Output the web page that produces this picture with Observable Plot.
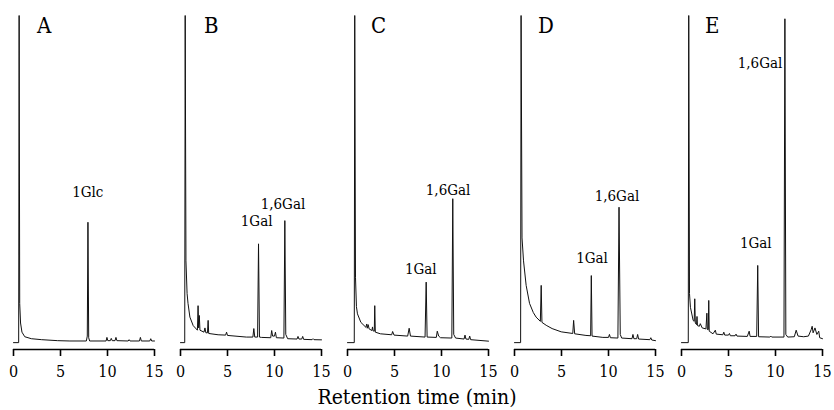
<!DOCTYPE html>
<html>
<head>
<meta charset="utf-8">
<script src="https://cdn.jsdelivr.net/npm/d3@7"></script>
<script src="https://cdn.jsdelivr.net/npm/@observablehq/plot@0.6"></script>
<style>
  body { margin: 0; background: #fff; }
  #chart { width: 834px; }
  #xlabel { width: 834px; text-align: center; font-family: "DejaVu Serif Condensed", "DejaVu Serif", serif; font-size: 21px; line-height: 24px; color: #000; }
</style>
</head>
<body>
<div id="chart"></div>
<div id="xlabel">Retention time (min)</div>
<script>
const panels = ["A", "B", "C", "D", "E"];
const xTicks = [0, 5, 10, 15];

// [retention time (min), detector signal (% of full scale)]
const traceA = [[0,0],[0.55,0],[0.6,100],[0.66,12],[0.75,6],[0.9,3.2],[1.2,1.8],[1.9,1.2],[3,0.9],[4.7,0.6],[6,0.5],[7.75,0.5],[7.85,2],[7.92,36.8],[8.0,1.5],[8.1,0.5],[9.85,0.5],[9.94,1.6],[10.03,0.6],[10.3,0.6],[10.4,1.3],[10.5,0.6],[10.8,0.6],[10.9,1.6],[11.0,0.6],[12.2,0.5],[12.3,0.9],[12.4,0.5],[13.4,0.5],[13.5,1.6],[13.6,0.5],[14.5,0.5],[14.6,1.2],[14.7,0.5],[15,0.5]];
const traceB = [[0,0],[0.45,0],[0.5,100],[0.58,25],[0.7,15],[0.8,12],[1.0,7.8],[1.35,5.2],[1.8,3.8],[1.87,11.3],[1.93,4.5],[2.0,8.3],[2.07,3.8],[2.5,3.2],[2.6,4.5],[2.7,3],[2.87,3],[2.94,6.8],[3.0,2.8],[4.0,2.4],[4.8,2.3],[4.9,3.2],[5.0,2.2],[7.0,1.7],[7.7,1.7],[7.8,4.3],[7.9,1.7],[8.2,1.7],[8.3,30.2],[8.4,1.7],[8.6,1.6],[9.6,1.5],[9.7,3.7],[9.8,2],[10.0,2],[10.1,3.2],[10.2,1.5],[11.0,1.4],[11.1,37.3],[11.2,2.5],[11.4,1.2],[12.4,1.1],[12.5,1.9],[12.6,1.1],[12.9,1.1],[13.0,1.9],[13.1,1.0],[14.0,0.9],[14.1,1.2],[14.2,0.9],[15,0.85]];
const traceC = [[0,0],[0.72,0],[0.77,100],[0.85,20],[0.95,11],[1.06,8.8],[1.42,6.2],[1.95,4.7],[2.05,5.7],[2.1,4.4],[2.2,5.5],[2.3,4.2],[2.6,3.7],[2.66,4.8],[2.72,3.6],[2.85,3.5],[2.9,11.3],[2.96,3.2],[3.5,2.7],[4.7,2.4],[4.8,3.4],[4.95,2.3],[6.4,2.0],[6.56,4.4],[6.7,2.0],[8.25,1.7],[8.37,18.5],[8.47,1.7],[9.45,1.6],[9.55,3.5],[9.7,2.0],[9.9,1.5],[11.1,1.4],[11.2,44],[11.3,2.5],[11.5,1.4],[12.4,1.1],[12.5,2.3],[12.6,1.1],[12.9,1.0],[13.0,2.0],[13.1,0.9],[15,0.45]];
const traceD = [[0,0],[0.65,0],[0.7,100],[0.8,32],[0.96,25],[1.24,17.5],[1.6,12],[2.0,9.2],[2.3,7.8],[2.75,6.5],[2.84,17.5],[2.92,6.2],[3.37,5.3],[4.0,4.3],[4.97,3.3],[6.2,2.8],[6.29,6.8],[6.4,2.7],[7.6,2.2],[8.1,2.1],[8.17,20.5],[8.25,2.0],[9.4,1.6],[10.0,1.6],[10.1,2.5],[10.2,1.5],[11.0,1.4],[11.12,41.4],[11.25,2.5],[11.4,1.4],[12.5,1.2],[12.6,2.5],[12.7,1.2],[13.0,1.2],[13.1,2.5],[13.2,1.1],[14.4,0.9],[14.5,1.5],[14.6,0.8],[15,0.6]];
const traceE = [[0,0],[0.72,0],[0.77,100],[0.85,15],[0.95,10.8],[1.24,6.8],[1.35,6.5],[1.41,13.4],[1.47,6],[1.6,5.5],[1.65,8],[1.7,5.2],[1.9,5],[2.0,5.8],[2.2,4.5],[2.6,4.2],[2.7,9],[2.75,4],[2.85,4],[2.9,12.9],[2.95,3.5],[3.35,2.7],[3.6,3.8],[3.7,2.6],[4.4,2.4],[4.5,3.2],[4.6,2.3],[5.0,2.3],[5.1,2.8],[5.2,2.1],[5.7,2.1],[5.8,2.6],[5.9,2],[7.0,1.9],[7.2,3.5],[7.3,1.9],[8.0,1.9],[8.11,23.6],[8.2,1.8],[9.4,1.7],[9.5,2],[9.6,1.7],[10.9,1.7],[11.0,99],[11.1,2.5],[11.3,1.7],[12.0,1.8],[12.2,3.8],[12.4,2],[13.0,1.8],[13.5,2],[13.8,4],[13.9,5],[14.0,3],[14.2,4.5],[14.4,2.5],[14.6,3.5],[14.7,1.5],[15,1.2]];

// peak labels
const labelPanel = ["A", "B", "B", "C", "C", "D", "D", "E", "E"];
const labelText  = ["1Glc", "1Gal", "1,6Gal", "1Gal", "1,6Gal", "1Gal", "1,6Gal", "1Gal", "1,6Gal"];
const labelTime  = [7.9, 8.1, 10.9, 7.8, 10.7, 8.25, 10.9, 7.9, 8.35];
const labelLevel = [44.4, 35.5, 41, 21.1, 45, 24.2, 43.4, 28.8, 83.8];

const traces = {A: traceA, B: traceB, C: traceC, D: traceD, E: traceE};
const rows = panels.flatMap(p => traces[p].map(([t, s]) => ({panel: p, t, s})));
const labels = labelText.map((text, i) => ({panel: labelPanel[i], text, t: labelTime[i], s: labelLevel[i]}));
const letters = panels.map(p => ({panel: p, text: p, t: 2.5, s: 94.5}));

const serif = "'DejaVu Serif Condensed', 'DejaVu Serif', serif";
const yMin = -2.1;
const chart = Plot.plot({
  width: 834,
  height: 385,
  marginLeft: 12,
  marginRight: 12,
  marginTop: 15,
  marginBottom: 36,
  style: {fontFamily: serif, fontSize: "16px", color: "#000", background: "#fff"},
  fx: {domain: panels, paddingInner: 0.157, paddingOuter: 0, axis: null, label: null},
  x: {domain: [0, 15], label: null},
  y: {domain: [yMin, 100], axis: null},
  marks: [
    Plot.ruleY([yMin], {stroke: "#000", strokeWidth: 1.6}),
    Plot.axisX({ticks: xTicks, tickSize: 7, tickPadding: 9, strokeWidth: 1.6, fontSize: 16, fontFamily: serif, label: null, tickFormat: d => String(d)}),
    Plot.line(rows, {x: "t", y: "s", fx: "panel", z: "panel", stroke: "#111", strokeWidth: 1, curve: "linear"}),
    Plot.text(labels, {x: "t", y: "s", fx: "panel", text: "text", fontSize: 15, fontFamily: serif, textAnchor: "middle", lineAnchor: "bottom", fill: "#000"}),
    Plot.text(letters, {x: "t", y: "s", fx: "panel", text: "text", fontSize: 22, fontFamily: serif, textAnchor: "start", lineAnchor: "bottom", fill: "#000"})
  ]
});
document.getElementById("chart").appendChild(chart);
</script>
</body>
</html>
